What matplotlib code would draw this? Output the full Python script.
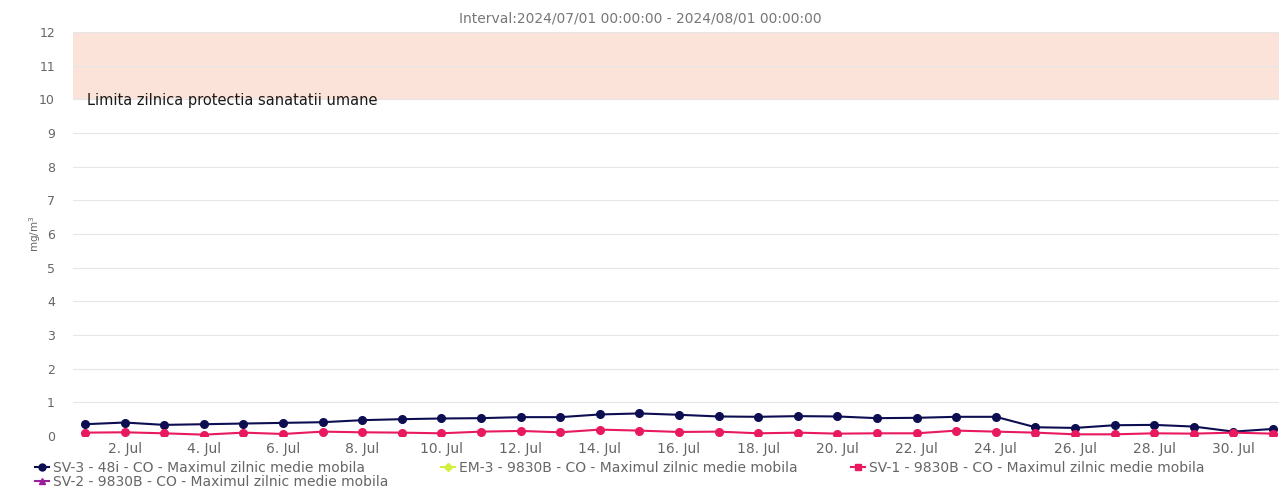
import matplotlib
matplotlib.use("Agg")
import matplotlib.pyplot as plt
from matplotlib.lines import Line2D

plt.rcParams['font.family'] = ['DejaVu Sans']

days = list(range(1, 32))
sv3 = [0.35, 0.40, 0.33, 0.35, 0.37, 0.39, 0.41, 0.47, 0.50, 0.52,
       0.53, 0.56, 0.56, 0.64, 0.67, 0.63, 0.58, 0.57, 0.59, 0.58,
       0.53, 0.54, 0.57, 0.57, 0.26, 0.24, 0.32, 0.33, 0.28, 0.13, 0.21]
sv1 = [0.10, 0.11, 0.08, 0.04, 0.10, 0.06, 0.13, 0.11, 0.10, 0.08,
       0.13, 0.15, 0.11, 0.19, 0.16, 0.12, 0.13, 0.08, 0.10, 0.07,
       0.08, 0.08, 0.16, 0.13, 0.10, 0.05, 0.05, 0.08, 0.07, 0.10, 0.07]
em3 = []
sv2 = []

tick_days = list(range(2, 31, 2))
tick_labels = [f"{d}. Jul" for d in tick_days]
y_ticks = list(range(0, 13))

band_low, band_high = 10, 12
band_label = "Limita zilnica protectia sanatatii umane"
title = "Interval:2024/07/01 00:00:00 - 2024/08/01 00:00:00"

names = ["SV-3 - 48i - CO - Maximul zilnic medie mobila",
         "EM-3 - 9830B - CO - Maximul zilnic medie mobila",
         "SV-1 - 9830B - CO - Maximul zilnic medie mobila",
         "SV-2 - 9830B - CO - Maximul zilnic medie mobila"]
c_sv3 = "#0d0d52"
c_em3 = "#d4f03c"
c_sv1 = "#e8195e"
c_sv2 = "#9b1f9b"

fig = plt.figure(figsize=(12.8, 4.88), dpi=100)
ax = fig.add_axes([73/1280, 1-436/488, (1279-73)/1280, (436-32)/488])

xmin, xmax = 0.697, 31.15
ax.set_xlim(xmin, xmax)
ax.set_ylim(0, 12)

ax.axhspan(band_low, band_high, color="#fbe3da", zorder=0, lw=0)
for y in y_ticks:
    ax.axhline(y, color="#e6e6e6", lw=0.8, zorder=0.5)

ax.plot(days, sv3, color=c_sv3, lw=1.5, marker="o", ms=5.5, zorder=3)
ax.plot(days, sv1, color=c_sv1, lw=1.5, marker="o", ms=5.5, zorder=3)
ax.plot(days[:len(em3)], em3, color=c_em3, marker="D")
ax.plot(days[:len(sv2)], sv2, color=c_sv2, marker="^")

ax.text(1.05, 9.97, band_label, fontsize=10.5, color="#1a1a1a", va="center", ha="left")

for s in ax.spines.values():
    s.set_visible(False)
ax.set_xticks(tick_days)
ax.set_xticklabels(tick_labels, fontsize=10, color="#666666")
ax.set_yticks(y_ticks)
ax.set_yticklabels([str(v) for v in y_ticks], fontsize=9, color="#666666")
ax.tick_params(axis="both", length=0)
ax.tick_params(axis="y", pad=13)
ax.tick_params(axis="x", pad=4)
ax.set_ylabel("mg/m$^3$", fontsize=7.5, color="#666666", labelpad=-3)

fig.text(0.5, 1-18/488, title, ha="center", va="center", fontsize=10, color="#777777")

handles = [
    Line2D([], [], color=c_sv3, lw=1.5, marker="o", ms=5),
    Line2D([], [], color=c_sv2, lw=1.5, marker="^", ms=5),
    Line2D([], [], color=c_em3, lw=1.5, marker="D", ms=4),
    Line2D([], [], color=c_sv1, lw=1.5, marker="s", ms=4.5),
]
labels = [names[0], names[3], names[1], names[2]]
leg = fig.legend(handles, labels, ncol=3, loc="upper left",
                 bbox_to_anchor=(35/1280, 1-461/488), frameon=False,
                 fontsize=10, handlelength=1.0, handletextpad=0.3,
                 columnspacing=3.8, labelspacing=0.0, borderpad=0,
                 borderaxespad=0)
for t in leg.get_texts():
    t.set_color("#666666")

fig.savefig("out.png", dpi=100)
